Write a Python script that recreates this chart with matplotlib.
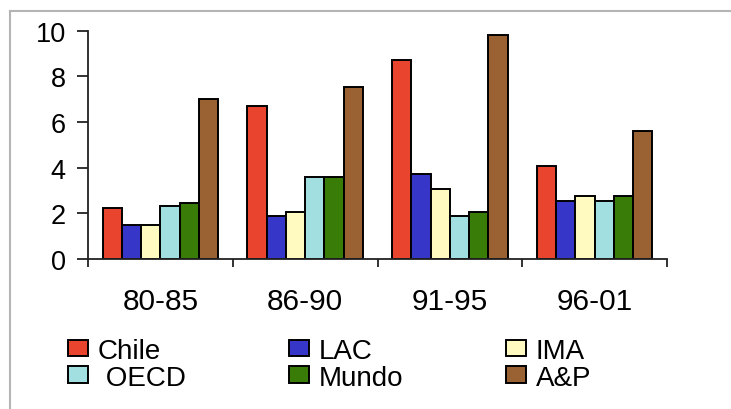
import numpy as np
import matplotlib.pyplot as plt
from matplotlib.lines import Line2D
from matplotlib.ticker import FixedLocator

periods = ["80-85", "86-90", "91-95", "96-01"]
series = ["Chile", "LAC", "IMA", " OECD", "Mundo", "A&P"]
chile = [2.23, 6.72, 8.72, 4.06]
lac = [1.50, 1.87, 3.72, 2.53]
ima = [1.50, 2.07, 3.07, 2.77]
oecd = [2.34, 3.60, 1.87, 2.53]
mundo = [2.44, 3.60, 2.07, 2.77]
ap = [7.00, 7.52, 9.81, 5.59]
colors = ["#E9442E", "#3636C8", "#FFFBC0", "#A2DFE0", "#3A7C08", "#9A6232"]

plt.rcParams['font.family'] = ['Liberation Sans', 'DejaVu Sans']

fig = plt.figure(figsize=(7.31, 4.10), dpi=100)
ax = fig.add_axes([88 / 731, 1 - 260 / 410, 579 / 731, 228.3 / 410])

x = np.arange(len(periods))
w = 0.133
bars = []
for i, (name, vals) in enumerate(zip(series, [chile, lac, ima, oecd, mundo, ap])):
    b = ax.bar(x + (i - 2.5) * w, vals, w, color=colors[i], edgecolor="black",
               linewidth=1.4, label=name)
    bars.append(b)

ax.set_xlim(-0.5, 3.5)
ax.set_ylim(0, 10)
ax.set_yticks([0, 2, 4, 6, 8, 10])
ax.set_xticks(x)
ax.set_xticklabels(periods)
ax.xaxis.set_minor_locator(FixedLocator(np.arange(-0.5, 4, 1)))
ax.tick_params(axis="x", which="major", length=0, pad=20, labelsize=21.5)
ax.tick_params(axis="x", which="minor", length=6, width=1.3, color="#222222")
ax.tick_params(axis="y", length=8, width=1.3, pad=8, labelsize=19.5,
               color="#222222")
for s in ["top", "right"]:
    ax.spines[s].set_visible(False)
for s in ["left", "bottom"]:
    ax.spines[s].set_linewidth(1.3)
    ax.spines[s].set_color("#222222")

# legend is filled column by column, so reorder to read row by row
order = [0, 3, 1, 4, 2, 5]
fig.legend([bars[k] for k in order], [series[k] for k in order],
           loc="upper left", bbox_to_anchor=(68 / 731, 1 - 339 / 410),
           ncol=3, frameon=False, fontsize=20, handlelength=0.72,
           handleheight=0.54, handletextpad=0.36, columnspacing=3.7,
           labelspacing=0.02, borderpad=0, borderaxespad=0)

# grey frame on top and left
fig.add_artist(Line2D([10 / 731, 1], [1 - 12 / 410, 1 - 12 / 410],
                      color="#B4B4B4", linewidth=1.5))
fig.add_artist(Line2D([10 / 731, 10 / 731], [0, 1 - 12 / 410],
                      color="#B4B4B4", linewidth=1.5))

fig.savefig("out.png", dpi=100)
